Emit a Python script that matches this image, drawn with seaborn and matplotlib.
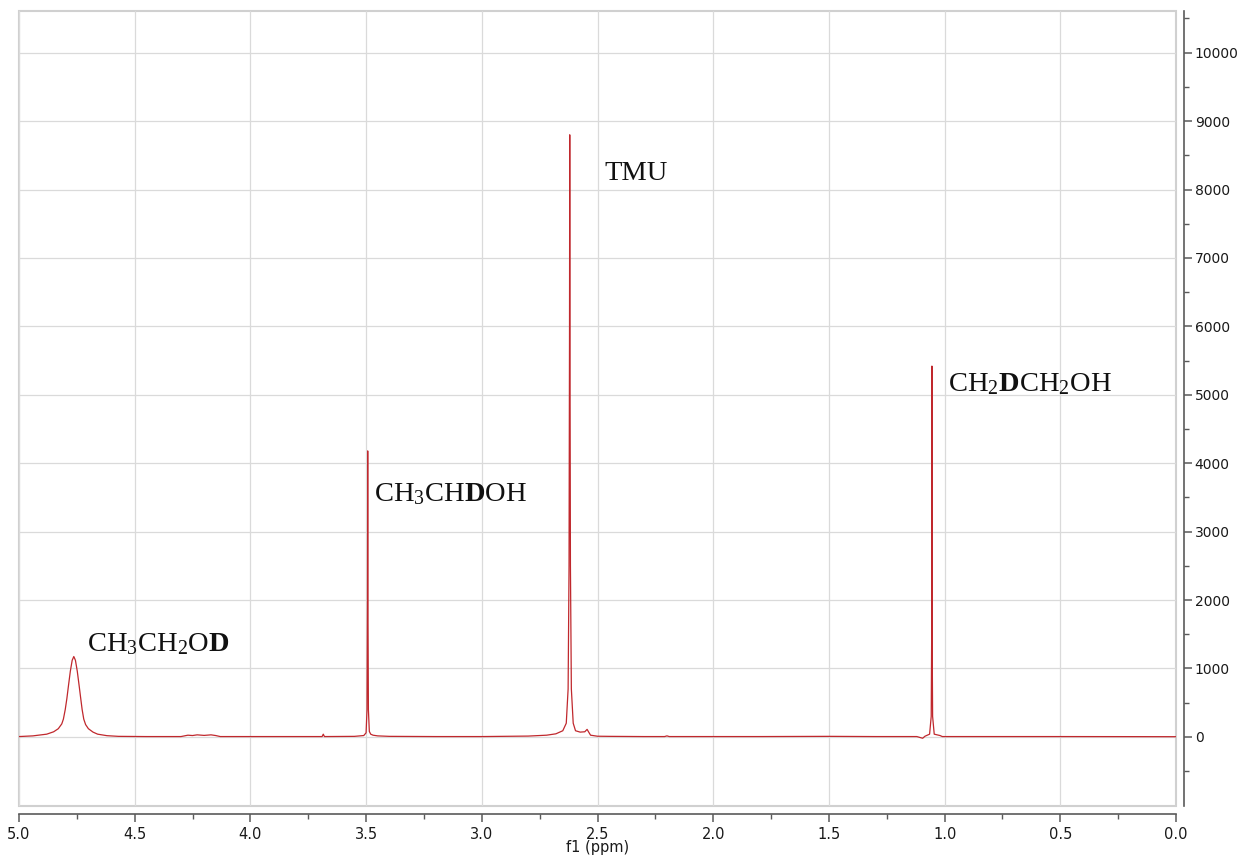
import numpy as np
import pandas as pd
import matplotlib
matplotlib.use("Agg")
import matplotlib.pyplot as plt
import seaborn as sns
from matplotlib.ticker import MultipleLocator
from matplotlib.patches import Rectangle


# spectrum trace (ppm, intensity)
ppm = [5.00, 4.94, 4.88, 4.85, 4.83, 4.815, 4.808, 4.80, 4.793, 4.786,
       4.778, 4.770, 4.763, 4.756, 4.748, 4.740, 4.733, 4.727, 4.72, 4.712,
       4.70, 4.68, 4.66, 4.62, 4.57, 4.45, 4.30,
       4.27, 4.25, 4.23, 4.20, 4.17, 4.15, 4.13, 4.00, 3.80, 3.69, 3.685,
       3.68, 3.55, 3.51, 3.500, 3.496, 3.494, 3.493, 3.492, 3.490, 3.486,
       3.48, 3.47, 3.45, 3.40, 3.20, 3.00, 2.80, 2.72, 2.68, 2.65, 2.635,
       2.627, 2.623, 2.621, 2.620, 2.619, 2.617, 2.613, 2.605, 2.595, 2.575,
       2.555, 2.545, 2.538, 2.53, 2.50, 2.45, 2.30, 2.21, 2.20, 2.19, 2.00,
       1.80, 1.50, 1.30, 1.12, 1.095, 1.085, 1.065, 1.058, 1.056, 1.055,
       1.054, 1.052, 1.045, 1.02, 1.01, 0.80, 0.50, 0.20, 0.00]
intensity = [5, 15, 40, 75, 120, 190, 260, 400, 560, 750,
             960, 1120, 1175, 1120, 960, 750, 560, 400, 260, 180,
             120, 70, 40, 18, 8, 5, 5,
             25, 20, 30, 22, 30, 20, 5, 5, 5, 5, 40,
             5, 8, 20, 60, 400, 2000, 4180, 2000, 400, 80,
             40, 25, 15, 8, 5, 5, 12, 25, 45, 90, 200,
             700, 2500, 5800, 8800, 5800, 2500, 700, 200, 90, 70,
             75, 110, 70, 25, 10, 8, 5, 5, 15, 5, 5,
             5, 8, 5, 5, -20, 10, 40, 300, 1500, 5420,
             1500, 300, 40, 20, 5, 5, 5, 4, 3]

# peak labels
label_text = [r"CH$_3$CH$_2$O$\mathbf{D}$", r"CH$_3$CH$\mathbf{D}$OH", "TMU",
              r"CH$_2\mathbf{D}$CH$_2$OH"]
label_x = [4.706, 3.466, 2.468, 0.985]
label_y = [1250, 3440, 8140, 5060]

x_ticks = np.arange(0.0, 5.01, 0.5)
y_ticks = np.arange(0, 10001, 1000)

df = pd.DataFrame({"ppm": ppm, "intensity": intensity})

sns.set_style("white")
plt.rcParams["font.family"] = ["DejaVu Sans"]
plt.rcParams["mathtext.fontset"] = "custom"
plt.rcParams["mathtext.rm"] = "Liberation Serif"
plt.rcParams["mathtext.it"] = "Liberation Serif:italic"
plt.rcParams["mathtext.bf"] = "Liberation Serif:bold"

fig = plt.figure(figsize=(12.39, 8.57), dpi=100)
ax = fig.add_axes([0.0153, 0.0595, 0.9339, 0.9277])

sns.lineplot(data=df, x="ppm", y="intensity", ax=ax, color="#c0282d",
             lw=0.9, estimator=None, sort=False)

for t, x, y in zip(label_text, label_x, label_y):
    ax.text(x, y, t, family="Liberation Serif", fontsize=20.5,
            ha="left", va="baseline", color="#111111")

ax.set_xlim(5.0, 0.0)
ax.set_ylim(-1010, 10610)
ax.set_xticks(x_ticks)
ax.set_xticklabels([f"{v:.1f}" for v in x_ticks])
ax.xaxis.set_minor_locator(MultipleLocator(0.25))
ax.set_yticks(y_ticks)
ax.set_yticklabels([str(int(v)) for v in y_ticks])
ax.set_yticks(np.arange(-500, 10501, 1000), minor=True)
ax.yaxis.tick_right()

ax.grid(True, which="major", color="#dadada", lw=0.9)
ax.set_axisbelow(True)

# light frame around the plot area
ax.add_patch(Rectangle((0, 0), 1, 1, transform=ax.transAxes, fill=False,
                       ec="#d0d0d0", lw=1.5, clip_on=False, zorder=0.5))

for s in ["top", "left"]:
    ax.spines[s].set_visible(False)
for s in ["bottom", "right"]:
    ax.spines[s].set_visible(True)
    ax.spines[s].set_color("#5a5a5a")
    ax.spines[s].set_linewidth(1.2)
    ax.spines[s].set_position(("outward", 6))

ax.tick_params(which="major", direction="out", length=6, width=1.1,
               color="#5a5a5a", labelsize=10, labelcolor="#1a1a1a", pad=1.5,
               bottom=True, right=True, left=False)
ax.tick_params(which="minor", direction="out", length=3.5, width=1.0,
               color="#5a5a5a", bottom=True, right=True, left=False)
ax.tick_params(axis="x", which="major", labelsize=10.5, pad=3)

ax.set_xlabel("f1 (ppm)", fontsize=10.5, labelpad=-1, color="#1a1a1a")
ax.set_ylabel("")

fig.savefig("out.png", dpi=100)
